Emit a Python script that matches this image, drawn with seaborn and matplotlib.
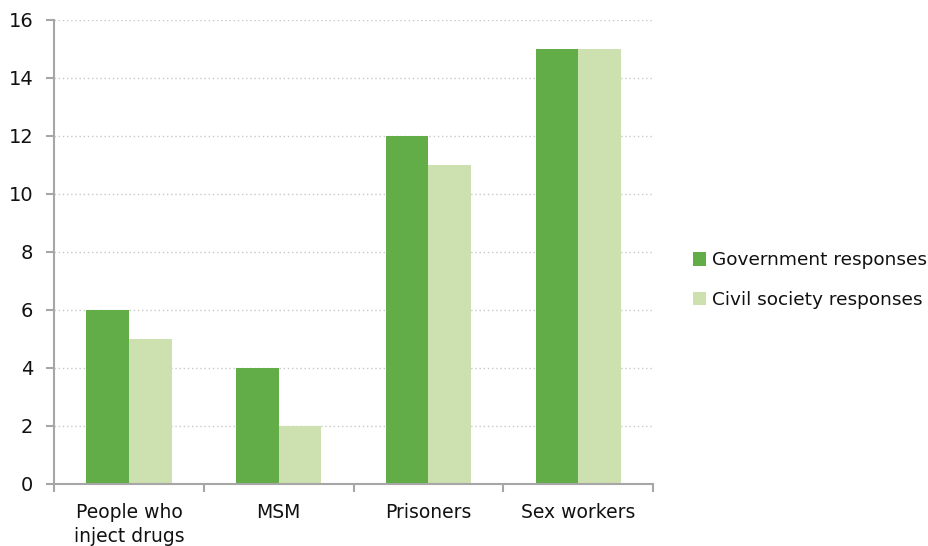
import matplotlib
matplotlib.use("Agg")
import matplotlib.pyplot as plt
from matplotlib.patches import Patch
import seaborn as sns
import pandas as pd

categories = ["People who\ninject drugs", "MSM", "Prisoners", "Sex workers"]
series_names = ["Government responses", "Civil society responses"]
government = [6, 4, 12, 15]
civil_society = [5, 2, 11, 15]
y_ticks = [0, 2, 4, 6, 8, 10, 12, 14, 16]
colors = ["#62AD47", "#CDE0B0"]

df = pd.DataFrame({
    "group": categories * 2,
    "series": [series_names[0]] * len(categories) + [series_names[1]] * len(categories),
    "value": government + civil_society,
})

sns.set_theme(style="white")
plt.rcParams["font.family"] = ["DejaVu Sans"]

fig = plt.figure(figsize=(9.29, 5.46), dpi=100)
ax = fig.add_axes([0.0581, 0.1136, 0.645, 0.8498])

sns.barplot(data=df, x="group", y="value", hue="series", order=categories,
            hue_order=series_names, palette=colors, width=0.57,
            saturation=1, edgecolor="none", linewidth=0, ax=ax, legend=False)

ax.set_xlim(-0.5, len(categories) - 0.5)
ax.set_ylim(0, 16)
ax.set_yticks(y_ticks)
ax.set_yticklabels([str(t) for t in y_ticks], fontsize=14, color="#111111")
ax.yaxis.grid(True, linestyle=(0, (1, 2)), color="#C8C8C8", linewidth=1)
ax.set_axisbelow(True)

# Category boundary ticks (major) and centred labels (minor)
ax.set_xticks([i - 0.5 for i in range(len(categories) + 1)])
ax.set_xticklabels([])
ax.set_xticks(range(len(categories)), minor=True)
ax.set_xticklabels(categories, minor=True, fontsize=13.5, color="#111111")
ax.tick_params(axis="x", which="minor", bottom=True, length=0, pad=14)
ax.tick_params(axis="x", which="major", bottom=True, length=6, width=1.5,
               color="#A6A6A6", direction="out")
ax.tick_params(axis="y", left=True, length=6, width=1.5, color="#A6A6A6",
               direction="out", pad=9)
for lbl in ax.get_xticklabels(minor=True):
    lbl.set_linespacing(1.3)
    lbl.set_verticalalignment("top")

ax.set_xlabel("")
ax.set_ylabel("")
for side in ["top", "right"]:
    ax.spines[side].set_visible(False)
for side in ["left", "bottom"]:
    ax.spines[side].set_color("#A6A6A6")
    ax.spines[side].set_linewidth(1.5)

handles = [Patch(facecolor=c, edgecolor="none") for c in colors]
fig.legend(handles, series_names, loc="center left", bbox_to_anchor=(0.728, 0.487),
           frameon=False, fontsize=13.3, labelcolor="#111111",
           handlelength=0.72, handleheight=0.72,
           handletextpad=0.3, labelspacing=1.15)

fig.savefig("out.png", dpi=100)
